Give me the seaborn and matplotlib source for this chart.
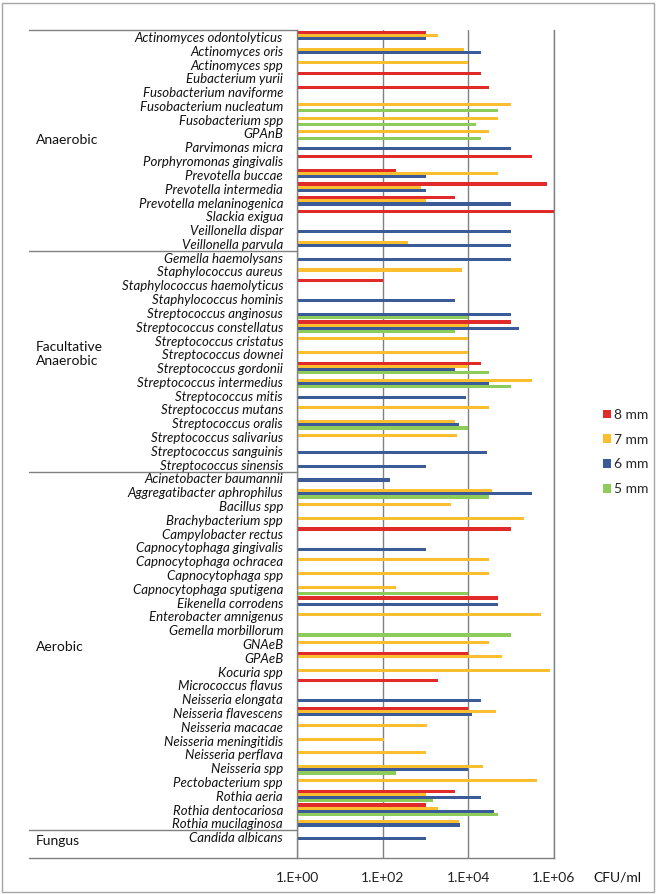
import numpy as np
import pandas as pd
import matplotlib
matplotlib.use("Agg")
import matplotlib.pyplot as plt
from matplotlib.lines import Line2D
from matplotlib.patches import Rectangle
from matplotlib.transforms import blended_transform_factory
import seaborn as sns

N = None
species = [
    "Actinomyces odontolyticus", "Actinomyces oris", "Actinomyces spp", "Eubacterium yurii",
    "Fusobacterium naviforme", "Fusobacterium nucleatum", "Fusobacterium spp", "GPAnB",
    "Parvimonas micra", "Porphyromonas gingivalis", "Prevotella buccae", "Prevotella intermedia",
    "Prevotella melaninogenica", "Slackia exigua", "Veillonella dispar", "Veillonella parvula",
    "Gemella haemolysans", "Staphylococcus aureus", "Staphylococcus haemolyticus",
    "Staphylococcus hominis", "Streptococcus anginosus", "Streptococcus constellatus",
    "Streptococcus cristatus", "Streptococcus downei", "Streptococcus gordonii",
    "Streptococcus intermedius", "Streptococcus mitis", "Streptococcus mutans",
    "Streptococcus oralis", "Streptococcus salivarius", "Streptococcus sanguinis",
    "Streptococcus sinensis",
    "Acinetobacter baumannii", "Aggregatibacter aphrophilus", "Bacillus spp",
    "Brachybacterium spp", "Campylobacter rectus", "Capnocytophaga gingivalis",
    "Capnocytophaga ochracea", "Capnocytophaga spp", "Capnocytophaga sputigena",
    "Eikenella corrodens", "Enterobacter amnigenus", "Gemella morbillorum", "GNAeB", "GPAeB",
    "Kocuria spp", "Micrococcus flavus", "Neisseria elongata", "Neisseria flavescens",
    "Neisseria macacae", "Neisseria meningitidis", "Neisseria perflava", "Neisseria spp",
    "Pectobacterium spp", "Rothia aeria", "Rothia dentocariosa", "Rothia mucilaginosa",
    "Candida albicans",
]
group_names = ["Anaerobic", "Facultative\nAnaerobic", "Aerobic", "Fungus"]
group_sizes = [16, 16, 26, 1]

sizes = ["8 mm", "7 mm", "6 mm", "5 mm"]
colors = ["#E12A2A", "#FBBE2E", "#3A5A98", "#8DCB5A"]

mm8 = [1e3, N, N, 2e4, 3e4, N, N, N, N, 3e5, 2e2, 7e5, 5e3, 1e6, N, N,
       N, N, 1e2, N, N, 1e5, N, N, 2e4, N, N, N, N, N, N, N,
       N, N, N, N, 1e5, N, N, N, N, 5e4, N, N, N, 1e4, N, 2e3, N, 1e4, N, N, N, N, N, 5e3, 1e3, N,
       N]
mm7 = [2e3, 8e3, 1e4, N, N, 1e5, 5e4, 3e4, N, N, 5e4, 8e2, 1e3, N, N, 4e2,
       N, 7e3, N, N, N, 1e4, 1e4, 1e4, 1e4, 3e5, N, 3e4, 5e3, 5.5e3, N, N,
       N, 3.5e4, 4e3, 2e5, N, N, 3e4, 3e4, 2e2, N, 5e5, N, 3e4, 6e4, 8e5, N, N, 4.5e4, 1.1e3, 1.1e2,
       1e3, 2.2e4, 4e5, 1e3, 2e3, 6e3,
       N]
mm6 = [1e3, 2e4, N, N, N, N, N, N, 1e5, N, 1e3, 1e3, 1e5, N, 1e5, 1e5,
       1e5, N, N, 5e3, 1e5, 1.5e5, N, N, 5e3, 3e4, 9e3, N, 6e3, N, 2.7e4, 1e3,
       1.5e2, 3e5, N, N, N, 1e3, N, N, N, 5e4, N, N, N, N, N, N, 2e4, 1.2e4, N, N, N, 1e4, N, 2e4,
       4e4, 6.5e3,
       1e3]
mm5 = [N, N, N, N, N, 5e4, 1.5e4, 2e4, N, N, N, N, N, N, N, N,
       N, N, N, N, 1e4, 5e3, N, N, 3e4, 1e5, N, N, 1e4, N, N, N,
       N, 3e4, N, N, N, N, N, N, 1e4, N, N, 1e5, N, N, N, N, N, N, N, N, N, 2e2, N, 1.5e3, 5e4, N,
       N]
xtick_vals = [1, 1e2, 1e4, 1e6]
xtick_labels = ["1.E+00", "1.E+02", "1.E+04", "1.E+06"]

rows = []
for sz, ser in zip(sizes, [mm8, mm7, mm6, mm5]):
    for sp, v in zip(species, ser):
        if v is not None:
            rows.append({"species": sp, "size": sz, "cfu": v})
df = pd.DataFrame(rows)

sns.set_style("white")
plt.rcParams["font.family"] = ["Lato", "DejaVu Sans"]

W, H = 657, 894
fig = plt.figure(figsize=(W / 100, H / 100), dpi=100)
ax_l, ax_r, ax_t, ax_b = 297, 554, 30, 858
ax = fig.add_axes([ax_l / W, 1 - ax_b / H, (ax_r - ax_l) / W, (ax_b - ax_t) / H])

sns.barplot(data=df, y="species", x="cfu", hue="size", hue_order=sizes, order=species,
            palette=colors, orient="h", width=0.9, errorbar=None, saturation=1,
            linewidth=0, ax=ax)
ax.set_xscale("log")
ax.set_xlim(1, 1e6)
ax.set_ylim(len(species) + 0.5, -0.5)
ax.set_xticks(xtick_vals)
ax.set_xticklabels(xtick_labels, fontsize=10, color="#222222")
ax.xaxis.set_minor_locator(matplotlib.ticker.NullLocator())
ax.tick_params(axis="x", length=0, pad=10)
ax.set_yticks(range(len(species)))
ax.set_yticklabels(species, fontsize=9.5, style="italic", color="#111111")
ax.tick_params(axis="y", which="major", length=0, pad=10)
ax.set_yticks(np.arange(-0.5, len(species) + 0.6, 1), minor=True)
ax.tick_params(axis="y", which="minor", direction="in", length=3, color="#808080", width=0.8)
ax.set_xlabel("")
ax.set_ylabel("")
ax.grid(axis="x", which="major", color="#808080", lw=1)
ax.grid(axis="y", visible=False)
ax.set_axisbelow(True)
ax.spines["top"].set_visible(False)
ax.spines["right"].set_visible(True)
for s in ["left", "bottom", "right"]:
    ax.spines[s].set_color("#808080")
    ax.spines[s].set_linewidth(1)

# legend
handles, labels = ax.get_legend_handles_labels()
if ax.get_legend() is not None:
    ax.get_legend().remove()
fig.legend(handles, labels, loc="center left", bbox_to_anchor=(596 / W, 1 - 452 / H),
           frameon=False, fontsize=10, handlelength=0.55, handleheight=0.55,
           handletextpad=0.25, labelspacing=0.93, borderpad=0)

# group separators and labels
trans = blended_transform_factory(fig.transFigure, ax.transData)
xl = 29 / W
bounds = list(np.cumsum([0] + group_sizes[:-1]) - 0.5) + [len(species) + 0.5]
for b in bounds:
    fig.add_artist(Line2D([xl, ax_l / W], [b, b], transform=trans, color="#808080", lw=1))
group_y = [7.5, 23.0, 44.2, 58.3]
for name, gy in zip(group_names, group_y):
    fig.text(36 / W, gy, name, transform=trans, fontsize=10, va="center", ha="left",
             color="#111111")

fig.text(617 / W, 1 - 877 / H, "CFU/ml", fontsize=10, ha="center", va="center", color="#111111")
fig.add_artist(Rectangle((2 / W, 2 / H), 652 / W, 889 / H, transform=fig.transFigure,
                         fill=False, ec="#A6A6A6", lw=1))

fig.savefig("out.png", dpi=100)
